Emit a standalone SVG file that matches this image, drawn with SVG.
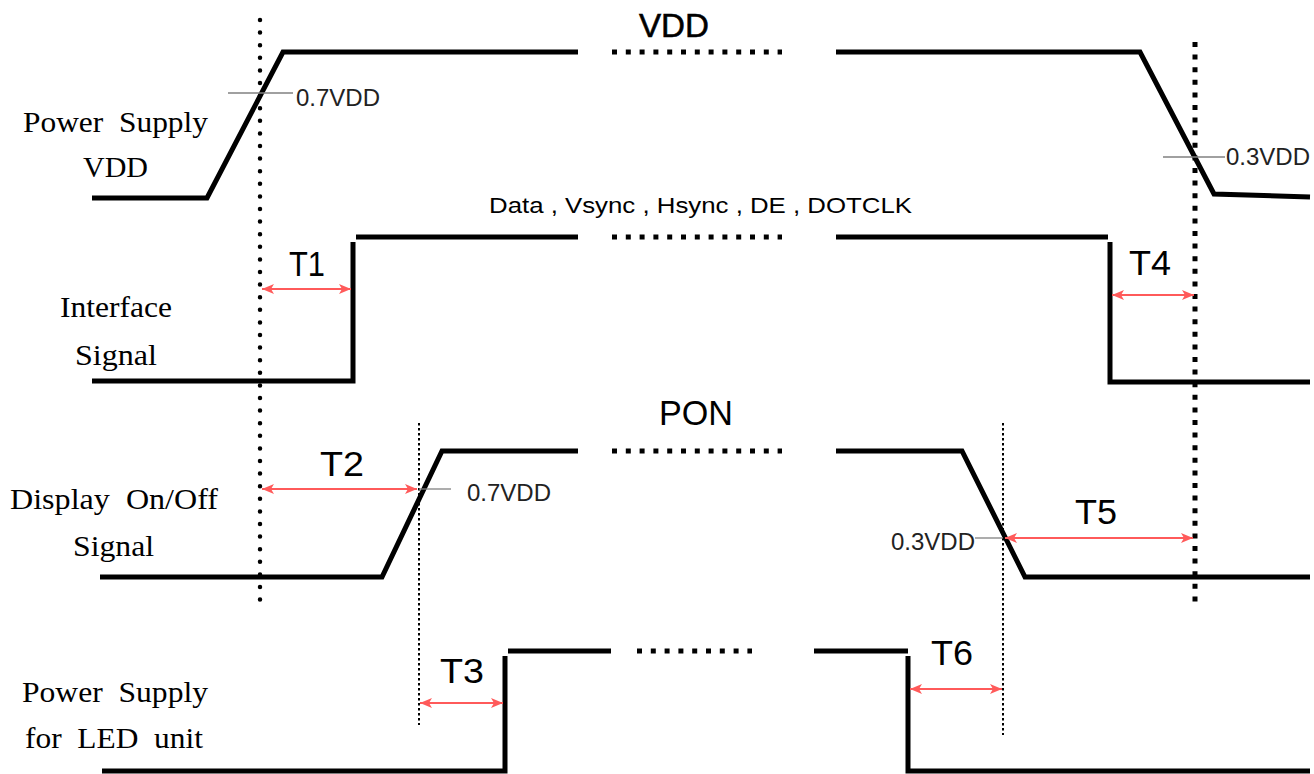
<svg xmlns="http://www.w3.org/2000/svg" width="1314" height="774" viewBox="0 0 1314 774">
<defs>
<marker id="ah" viewBox="0 0 12 10" refX="12" refY="5" markerWidth="12" markerHeight="10" markerUnits="userSpaceOnUse" orient="auto-start-reverse">
<path d="M0,0 L12,5 L0,10 L3,5 z" fill="#ff5a5a"/>
</marker>
</defs>
<style>
.wave{fill:none;stroke:#000;stroke-width:5;stroke-linejoin:miter}
.gapdot{fill:none;stroke:#000;stroke-width:5;stroke-dasharray:5 8.8}
.bigdot{fill:none;stroke:#000;stroke-width:4.5;stroke-linecap:round;stroke-dasharray:0 12.6}
.sqdot{fill:none;stroke:#000;stroke-width:5;stroke-dasharray:5 7.6}
.thindot{fill:none;stroke:#000;stroke-width:2;stroke-dasharray:2.5 2.5}
.tick{fill:none;stroke:#808080;stroke-width:1.3}
.arr{fill:none;stroke:#ff5a5a;stroke-width:1.8;marker-start:url(#ah);marker-end:url(#ah)}
.lbl{font-family:"Liberation Serif","Times New Roman",serif;font-size:30px;fill:#000}
.t{font-family:"Liberation Sans",Arial,sans-serif;font-size:35px;fill:#000}
.v{font-family:"Liberation Sans",Arial,sans-serif;font-size:23px;fill:#222}
.ttl{font-family:"Liberation Sans",Arial,sans-serif;fill:#000}
</style>

<g id="labels">
<text class="lbl" x="23" y="132" textLength="185" lengthAdjust="spacingAndGlyphs" xml:space="preserve">Power  Supply</text>
<text class="lbl" x="83" y="177" textLength="65" lengthAdjust="spacingAndGlyphs">VDD</text>
<text class="lbl" x="60" y="317" textLength="112" lengthAdjust="spacingAndGlyphs">Interface</text>
<text class="lbl" x="75" y="365" textLength="82" lengthAdjust="spacingAndGlyphs">Signal</text>
<text class="lbl" x="10" y="509" textLength="208" lengthAdjust="spacingAndGlyphs" xml:space="preserve">Display  On/Off</text>
<text class="lbl" x="73" y="556" textLength="81" lengthAdjust="spacingAndGlyphs">Signal</text>
<text class="lbl" x="22" y="702" textLength="186" lengthAdjust="spacingAndGlyphs" xml:space="preserve">Power  Supply</text>
<text class="lbl" x="25" y="748" textLength="178" lengthAdjust="spacingAndGlyphs" xml:space="preserve">for  LED  unit</text>
</g>

<g id="guides">
<line class="bigdot" x1="260" y1="20" x2="260" y2="610"/>
<line class="sqdot" x1="1195" y1="42" x2="1195" y2="608"/>
<line class="thindot" x1="419" y1="423" x2="419" y2="725"/>
<line class="thindot" x1="1003" y1="423" x2="1003" y2="735"/>
</g>

<g id="vdd">
<polyline class="wave" points="92,198 207,198 283,52 578,52"/>
<line class="gapdot" x1="612" y1="52" x2="782" y2="52"/>
<polyline class="wave" points="836,52 1140,52 1214,194 1310,197"/>
<text class="ttl" x="674" y="37" font-size="34" text-anchor="middle" textLength="70" lengthAdjust="spacingAndGlyphs" stroke="#000" stroke-width="0.6">VDD</text>
<line class="tick" x1="228" y1="93" x2="293" y2="93"/>
<text class="v" x="296" y="106" textLength="84" lengthAdjust="spacingAndGlyphs">0.7VDD</text>
<line class="tick" x1="1163" y1="157" x2="1225" y2="157"/>
<text class="v" x="1226" y="165" textLength="84" lengthAdjust="spacingAndGlyphs">0.3VDD</text>
</g>

<g id="interface">
<polyline class="wave" points="92,381 353,381 353,242"/>
<line class="wave" x1="356" y1="237" x2="578" y2="237"/>
<line class="gapdot" x1="612" y1="237" x2="782" y2="237"/>
<line class="wave" x1="836" y1="237" x2="1108" y2="237"/>
<polyline class="wave" points="1110,242 1110,382 1310,382"/>
<text class="ttl" x="489" y="213" font-size="22" textLength="423" lengthAdjust="spacingAndGlyphs" xml:space="preserve">Data , Vsync , Hsync , DE , DOTCLK</text>
</g>

<g id="display">
<polyline class="wave" points="100,577 382,577 442,451 578,451"/>
<line class="gapdot" x1="612" y1="451" x2="782" y2="451"/>
<polyline class="wave" points="836,451 962,451 1025,577 1310,577"/>
<text class="ttl" x="696" y="425" font-size="35" text-anchor="middle" textLength="74" lengthAdjust="spacingAndGlyphs">PON</text>
<line class="tick" x1="419" y1="489" x2="451" y2="489"/>
<text class="v" x="467" y="501" textLength="84" lengthAdjust="spacingAndGlyphs">0.7VDD</text>
<line class="tick" x1="975" y1="538" x2="1003" y2="538"/>
<text class="v" x="891" y="550" textLength="84" lengthAdjust="spacingAndGlyphs">0.3VDD</text>
</g>

<g id="led">
<polyline class="wave" points="102,771 505,771 505,656"/>
<line class="wave" x1="508" y1="651" x2="611" y2="651"/>
<line class="gapdot" x1="637" y1="651" x2="752" y2="651"/>
<line class="wave" x1="814" y1="651" x2="908" y2="651"/>
<polyline class="wave" points="908,656 908,771 1310,771"/>
</g>

<g id="connectors">
<line class="arr" x1="262" y1="289" x2="351" y2="289"/>
<line class="arr" x1="262" y1="489" x2="417" y2="489"/>
<line class="arr" x1="420" y1="703" x2="503" y2="703"/>
<line class="arr" x1="1112" y1="295" x2="1194" y2="295"/>
<line class="arr" x1="1005" y1="538" x2="1193" y2="538"/>
<line class="arr" x1="910" y1="689" x2="1002" y2="689"/>
</g>

<g id="timing-labels">
<text class="t" x="307" y="276" text-anchor="middle" textLength="36" lengthAdjust="spacingAndGlyphs">T1</text>
<text class="t" x="342" y="476" text-anchor="middle" textLength="44" lengthAdjust="spacingAndGlyphs">T2</text>
<text class="t" x="462" y="683" text-anchor="middle" textLength="44" lengthAdjust="spacingAndGlyphs">T3</text>
<text class="t" x="1150" y="275" text-anchor="middle" textLength="42" lengthAdjust="spacingAndGlyphs">T4</text>
<text class="t" x="1096" y="524" text-anchor="middle" textLength="42" lengthAdjust="spacingAndGlyphs">T5</text>
<text class="t" x="952" y="665" text-anchor="middle" textLength="42" lengthAdjust="spacingAndGlyphs">T6</text>
</g>
</svg>
